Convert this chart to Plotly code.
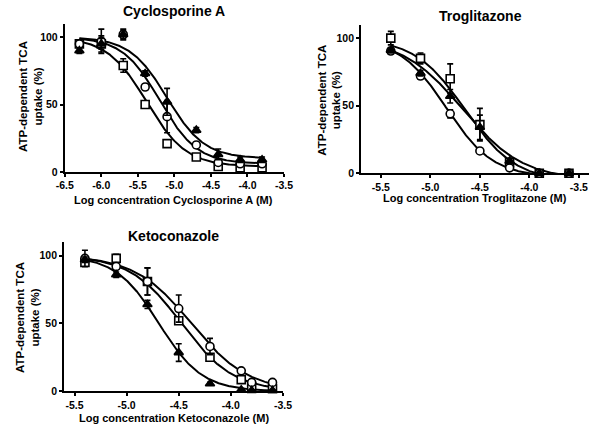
import plotly.graph_objects as go

W, H = 600, 432

# ---------------- data ----------------
# Cyclosporine A
cyc_x = [-6.3, -6.0, -5.7, -5.4, -5.1, -4.7, -4.4, -4.1, -3.8]
cyc_sq = [95, 95, 79, 50, 21, 11, 4, 3, 3]
cyc_sq_err = [2, 6, 5, 2, 2, 2, 1, 1, 1]
cyc_ci = [95, 97, 102, 63, 41, 20, 7, 6, 6]
cyc_ci_err = [2, 9, 4, 2, 12, 2, 2, 1, 1]
cyc_tr = [90, 95, 102, 73, 52, 31, 13, 9, 9]
cyc_tr_err = [2, 4, 3, 2, 10, 2, 4, 2, 2]

# Troglitazone
tro_x = [-5.4, -5.1, -4.8, -4.5, -4.2, -3.9, -3.6]
tro_sq = [100, 85, 70, 36, 8, 0, 0]
tro_sq_err = [5, 4, 11, 12, 2, 0.5, 0.5]
tro_ci = [90.5, 72, 44, 16.5, 4, 0, 0]
tro_ci_err = [2, 2, 3, 1, 1, 0.5, 0.5]
tro_tr = [91, 74, 57, 34, 9, 0, 0]
tro_tr_err = [2, 2, 5, 9, 2, 0.5, 0.5]

# Ketoconazole
ket_x = [-5.4, -5.1, -4.8, -4.5, -4.2, -3.9, -3.8, -3.6]
ket_sq = [95, 98, 81, 52, 25, 8.5, 3.5, 2]
ket_sq_err = [3, 3, 10, 2, 2, 1, 1, 1]
ket_ci = [98, 92, 81, 61, 33, 15, 6.5, 6.5]
ket_ci_err = [6, 2, 10, 10, 6, 1, 1, 1]
ket_tr = [97, 86, 64, 28.5, 5.5, 1, 0.5, 0.5]
ket_tr_err = [2, 2, 3, 6.5, 1, 0.5, 0.5, 0.5]

# fitted curves (top, bottom, logIC50, hill)
cyc_fit = {"sq": [100, 4, -5.38, 1.6], "ci": [100, 6, -5.2, 1.7], "tr": [100, 10, -5.1, 1.7]}
tro_fit = {"sq": [100, -6, -4.65, 1.7], "ci": [100, -3, -4.84, 1.83], "tr": [100, -5, -4.675, 1.42]}
ket_fit = {"sq": [100, 0, -4.473, 1.75], "ci": [100, 0, -4.379, 1.6], "tr": [100, 0, -4.69, 2.1]}

cyc_ticks = [-6.5, -6.0, -5.5, -5.0, -4.5, -4.0, -3.5]
cyc_ticktext = ["-6.5", "-6.0", "-5.5", "-5.0", "-4.5", "-4.0", "-3.5"]
tk_ticks = [-5.5, -5.0, -4.5, -4.0, -3.5]
tk_ticktext = ["-5.5", "-5.0", "-4.5", "-4.0", "-3.5"]
y_ticks = [0, 50, 100]
y_ticktext = ["0", "50", "100"]

titles = ["Cyclosporine A", "Troglitazone", "Ketoconazole"]
xtitles = ["Log concentration Cyclosporine A (M)",
           "Log concentration Troglitazone (M)",
           "Log concentration Ketoconazole (M)"]
ytitle = "ATP-dependent TCA<br>uptake (%)"

FONT = "Liberation Sans, Arial, Helvetica, sans-serif"


def fx(px):
    return px / W


def fy(py):
    return 1 - py / H


# panel geometry in window pixels
panels = [
    dict(x=cyc_x, data=[(cyc_sq, cyc_sq_err, "sq"), (cyc_ci, cyc_ci_err, "ci"), (cyc_tr, cyc_tr_err, "tr")],
         fit=cyc_fit, xr=[-6.5, -3.5], px=(57.5, 283.5), py0=174.3, py100=37.7,
         ticks=cyc_ticks, ticktext=cyc_ticktext),
    dict(x=tro_x, data=[(tro_sq, tro_sq_err, "sq"), (tro_ci, tro_ci_err, "ci"), (tro_tr, tro_tr_err, "tr")],
         fit=tro_fit, xr=[-5.7, -3.4], px=(363, 597.7), py0=175.7, py100=38.7,
         ticks=tk_ticks, ticktext=tk_ticktext),
    dict(x=ket_x, data=[(ket_sq, ket_sq_err, "sq"), (ket_ci, ket_ci_err, "ci"), (ket_tr, ket_tr_err, "tr")],
         fit=ket_fit, xr=[-5.6, -3.5], px=(56.8, 282.4), py0=396.7, py100=259.3,
         ticks=tk_ticks, ticktext=tk_ticktext),
]

symbols = {"sq": "square", "ci": "circle", "tr": "triangle-up"}
fills = {"sq": "white", "ci": "white", "tr": "black"}
sizes = {"sq": 8, "ci": 8, "tr": 8}

fig = go.Figure()
layout = dict(width=W, height=H, margin=dict(l=0, r=0, t=0, b=0),
              paper_bgcolor="white", plot_bgcolor="white", showlegend=False,
              font=dict(family=FONT, color="black", size=11))

for i, p in enumerate(panels):
    n = "" if i == 0 else str(i + 1)
    xa, ya = "x" + n, "y" + n
    ppu = (p["py0"] - p["py100"]) / 100.0
    ytop = p["py0"] - 110 * ppu
    layout["xaxis" + n] = dict(
        domain=[fx(p["px"][0]), min(1, fx(p["px"][1]))], range=p["xr"], anchor=ya,
        showline=True, linecolor="black", linewidth=2, ticks="outside", ticklen=3,
        tickwidth=2, tickcolor="black", tickvals=p["ticks"], ticktext=p["ticktext"],
        tickfont=dict(size=10.5, family=FONT, weight="bold"), showgrid=False, zeroline=False)
    layout["yaxis" + n] = dict(
        domain=[fy(p["py0"]), fy(ytop)], range=[0, 110], anchor=xa,
        showline=True, linecolor="black", linewidth=2, ticks="outside", ticklen=3,
        tickwidth=2, tickcolor="black", tickvals=y_ticks, ticktext=y_ticktext,
        tickfont=dict(size=10.5, family=FONT, weight="bold"), showgrid=False, zeroline=False)

    # fitted curves
    xs0, xs1 = p["x"][0], p["x"][-1]
    xs = [xs0 + (xs1 - xs0) * k / 300 for k in range(301)]
    for key in ["sq", "ci", "tr"]:
        top, bot, c, h = p["fit"][key]
        ys = [bot + (top - bot) / (1 + 10 ** ((xv - c) * h)) for xv in xs]
        fig.add_trace(go.Scatter(x=xs, y=ys, mode="lines", xaxis=xa, yaxis=ya,
                                 line=dict(color="black", width=2), hoverinfo="skip"))
    # data points with error bars
    for vals, errs, key in p["data"]:
        fig.add_trace(go.Scatter(
            x=p["x"], y=vals, mode="markers", xaxis=xa, yaxis=ya, cliponaxis=False,
            marker=dict(symbol=symbols[key], size=sizes[key], color=fills[key],
                        line=dict(color="black", width=1.6)),
            error_y=dict(type="data", array=errs, visible=True, color="black",
                         thickness=1.6, width=3)))

fig.update_layout(**layout)

annotations = []


def ann(text, x, y, size, angle=0):
    annotations.append(dict(text=text, x=fx(x), y=fy(y), xref="paper", yref="paper",
                            showarrow=False, textangle=angle, xanchor="center", yanchor="middle",
                            font=dict(size=size, family=FONT, color="black", weight="bold")))


ann(titles[0], 170, 11, 14)
ann(titles[1], 486, 16, 14)
ann(titles[2], 170, 239, 14)
ann(xtitles[0], 170, 203, 11)
ann(xtitles[1], 480, 201, 11)
ann(xtitles[2], 170, 424, 11)
ann(ytitle, 22, 98, 11.5, -90)
ann(ytitle, 330, 102, 11.5, -90)
ann(ytitle, 19, 322, 11.5, -90)
fig.update_layout(annotations=annotations)

# remove the default 8px page margin so the figure fills the 600x432 window exactly
fig.write_html("out.html", config={"displayModeBar": False},
               post_script="document.body.style.margin='0';document.body.style.overflow='hidden';")
